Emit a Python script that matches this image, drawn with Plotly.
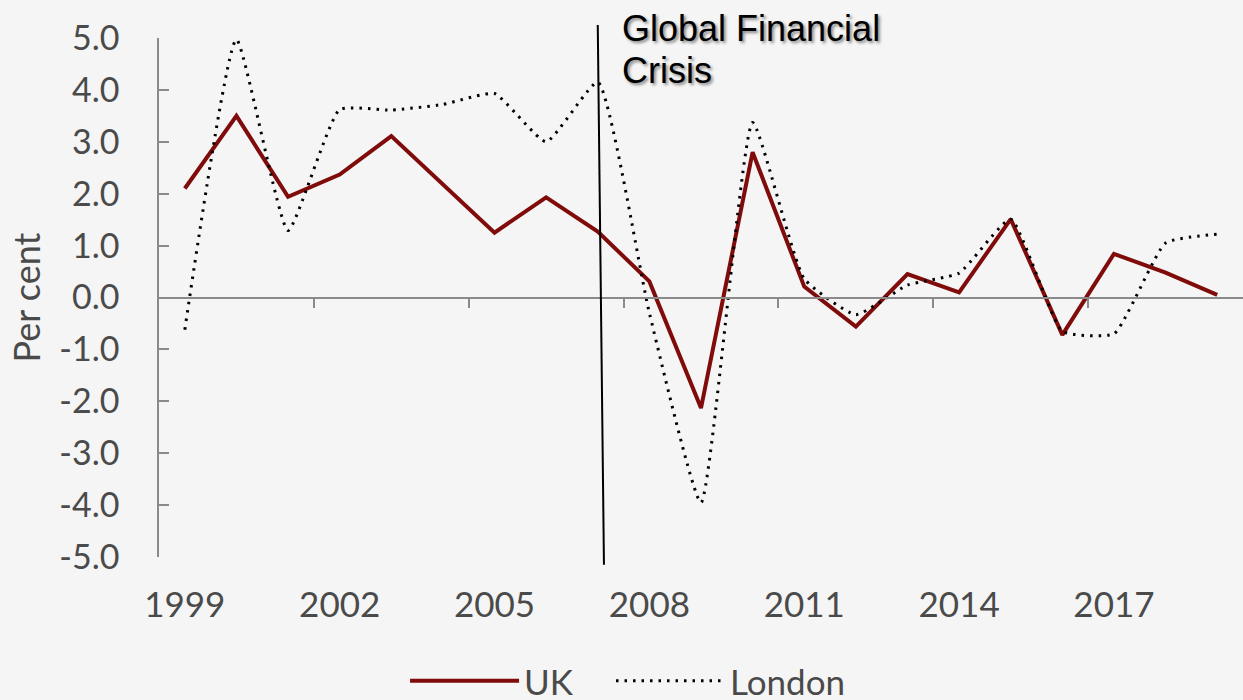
import plotly.graph_objects as go

years = list(range(1999, 2020))
uk = [2.10, 3.50, 1.94, 2.37, 3.11, 2.17, 1.25, 1.93, 1.27, 0.31, -2.13,
      2.80, 0.21, -0.56, 0.45, 0.10, 1.51, -0.72, 0.84, 0.48, 0.05]
london = [-0.62, 4.97, 1.29, 3.62, 3.61, 3.72, 3.93, 3.00, 4.15, -0.30, -3.95,
          3.37, 0.36, -0.33, 0.24, 0.47, 1.51, -0.65, -0.70, 1.05, 1.22]
label_years = [1999, 2002, 2005, 2008, 2011, 2014, 2017]
boundary_ticks = [2001.5, 2004.5, 2007.5, 2010.5, 2013.5, 2016.5]
y_ticks = [5, 4, 3, 2, 1, 0, -1, -2, -3, -4, -5]
gfc_year = 2007

TEXT = "#4a4a4a"
AXIS = "#8a8a8a"
FONT = "Lato"

fig = go.Figure()
fig.add_trace(go.Scatter(x=years, y=uk, name="UK", mode="lines", legend="legend",
                         line=dict(color="#800b0b", width=4), hoverinfo="skip"))
fig.add_trace(go.Scatter(x=years, y=london, name="London", mode="lines", legend="legend2",
                         line=dict(color="#000000", width=3, dash="2.5px,6px",
                                   shape="spline", smoothing=0.45),
                         hoverinfo="skip"))
# carrier trace for the axis drawn along zero
fig.add_trace(go.Scatter(x=[], y=[], xaxis="x2", showlegend=False, hoverinfo="skip"))

fig.add_shape(type="line", xref="x", yref="paper", x0=gfc_year, x1=gfc_year + 0.12,
              y0=1.025, y1=-0.015, line=dict(color="#000000", width=2))
gfc_font = dict(family="Liberation Sans, Arial", size=36, color="#000000",
                shadow="2px 2px 3px rgba(0,0,0,0.45)")
fig.add_annotation(text="Global Financial", xref="x", yref="paper",
                   x=gfc_year + 0.43, y=1.062, xanchor="left", yanchor="top",
                   showarrow=False, font=gfc_font)
fig.add_annotation(text="Crisis", xref="x", yref="paper",
                   x=gfc_year + 0.43, y=0.981, xanchor="left", yanchor="top",
                   showarrow=False, font=gfc_font)

legend_common = dict(orientation="h", xanchor="left", yref="container",
                     y=0.027, yanchor="middle",
                     font=dict(family=FONT, size=35, color=TEXT), itemwidth=109,
                     bgcolor="rgba(0,0,0,0)")

fig.update_layout(
    width=1243, height=700,
    margin=dict(l=159, r=0, t=38, b=143, autoexpand=False),
    paper_bgcolor="#f5f5f5", plot_bgcolor="#f5f5f5",
    font=dict(family=FONT, color=TEXT, size=33),
    showlegend=True,
    legend=dict(x=0.227, **legend_common),
    legend2=dict(x=0.417, **legend_common),
    xaxis=dict(range=[1998.5, 2019.5], tickvals=label_years,
               ticktext=[str(v) for v in label_years], automargin=False,
               showgrid=False, zeroline=False, showline=False, ticks="",
               ticklabelstandoff=24, tickfont=dict(size=35, color=TEXT)),
    xaxis2=dict(range=[1998.5, 2019.5], overlaying="x", anchor="free", position=0.5,
                showgrid=False, zeroline=False, showline=True, linecolor=AXIS,
                linewidth=1.5, ticks="outside", ticklen=10, tickwidth=1.5,
                tickcolor=AXIS, tickvals=boundary_ticks, showticklabels=False),
    yaxis=dict(range=[-5, 5], tickvals=y_ticks, automargin=False,
               ticktext=[f"{v:.1f}" for v in y_ticks],
               showgrid=False, zeroline=False, showline=True, linecolor=AXIS,
               linewidth=1.5, ticks="inside", ticklen=10, tickwidth=1.5, tickcolor=AXIS,
               ticklabelstandoff=31, tickfont=dict(size=34, color=TEXT),
               title=dict(text="Per cent", standoff=8, font=dict(size=36, color=TEXT))),
)

fig.write_html("out.html")
